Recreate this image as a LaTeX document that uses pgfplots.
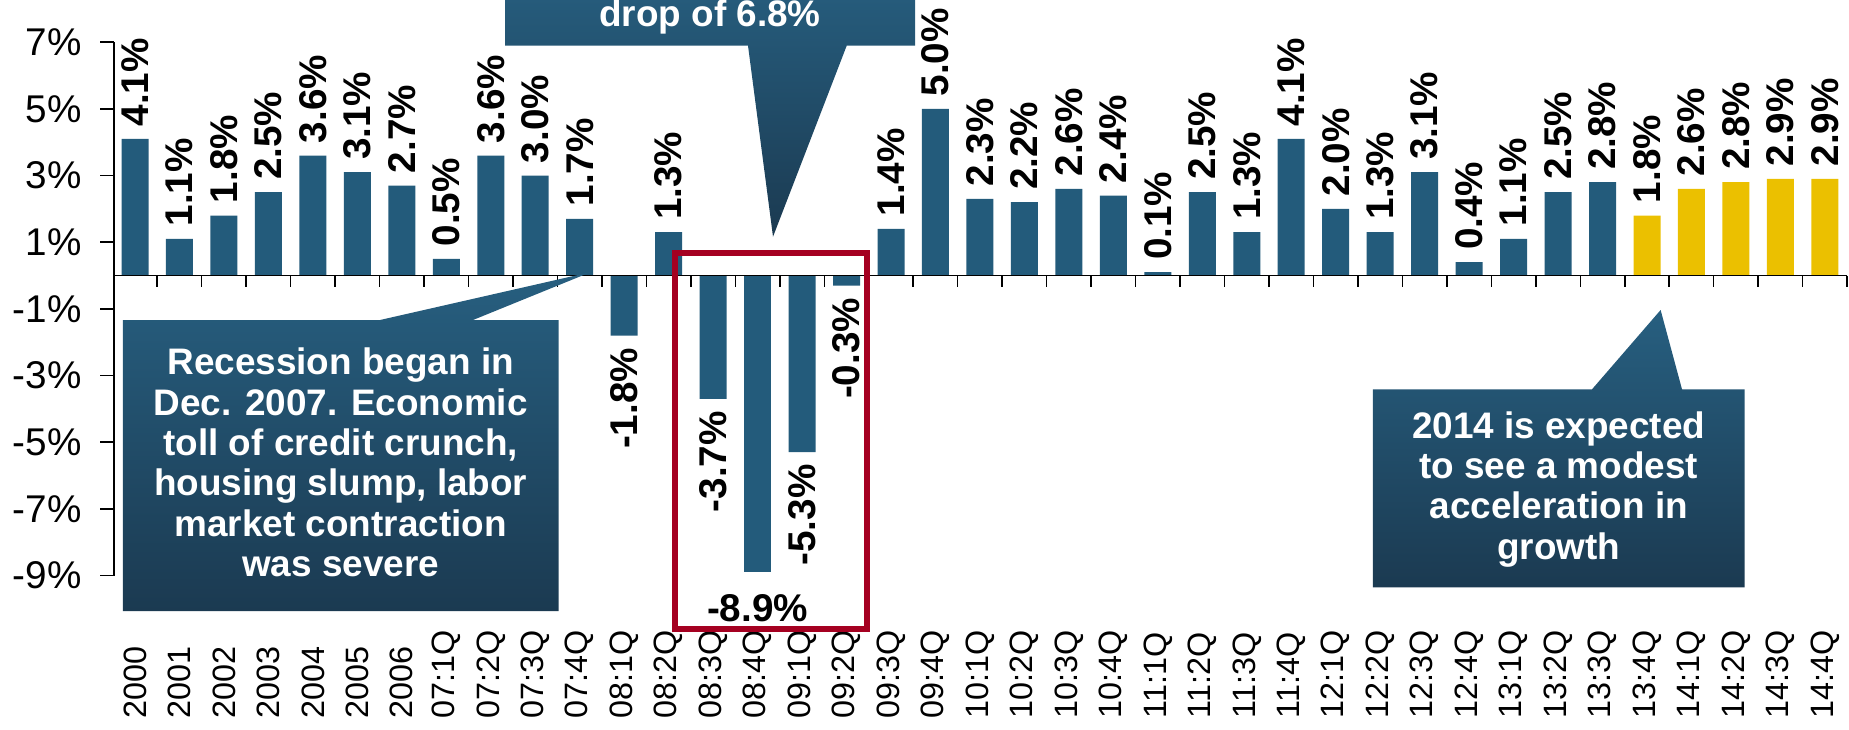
\documentclass[border=0pt]{standalone}
\usepackage{pgfplots}
\pgfplotsset{compat=1.18}
\usepackage{pgfplotstable}
\usepackage{fontspec}
\setmainfont{Liberation Sans}
\definecolor{barblue}{HTML}{235B7B}
\definecolor{baryellow}{HTML}{EBC000}
\definecolor{boxtop}{HTML}{275F80}
\definecolor{boxbot}{HTML}{1B3A51}
\definecolor{redbox}{HTML}{A50021}

\pgfplotstableread{
x y
0 4.1
1 1.1
2 1.8
3 2.5
4 3.6
5 3.1
6 2.7
7 0.5
8 3.6
9 3.0
10 1.7
12 1.3
17 1.4
18 5.0
19 2.3
20 2.2
21 2.6
22 2.4
23 0.1
24 2.5
25 1.3
26 4.1
27 2.0
28 1.3
29 3.1
30 0.4
31 1.1
32 2.5
33 2.8
}\bluepos
\pgfplotstableread{
x y
11 -1.8
13 -3.7
15 -5.3
16 -0.3
}\blueneg
\pgfplotstableread{
x y
14 -8.9
}\bluemin
\pgfplotstableread{
x y
34 1.8
35 2.6
36 2.8
37 2.9
38 2.9
}\yellowfc

\begin{document}
\begin{tikzpicture}
\begin{axis}[
  at={(11.41mm,15.35mm)}, anchor=south west,
  width=173.3mm, height=53.33mm, scale only axis,
  xmin=-0.47, xmax=38.5, ymin=-9, ymax=7,
  ybar, bar width=2.7mm, bar shift=0pt,
  axis x line*=bottom, axis y line*=left,
  x axis line style={draw=none},
  y axis line style={-, line width=0.45pt},
  xtick={0,...,38},
  xticklabels={2000,2001,2002,2003,2004,2005,2006,07:1Q,07:2Q,07:3Q,07:4Q,08:1Q,08:2Q,08:3Q,08:4Q,09:1Q,09:2Q,09:3Q,09:4Q,10:1Q,10:2Q,10:3Q,10:4Q,11:1Q,11:2Q,11:3Q,11:4Q,12:1Q,12:2Q,12:3Q,12:4Q,13:1Q,13:2Q,13:3Q,13:4Q,14:1Q,14:2Q,14:3Q,14:4Q},
  xticklabel style={rotate=90, anchor=west, inner sep=0pt, font=\fontsize{9.2}{11}\selectfont},
  xticklabel shift=12.95mm,
  major x tick style={draw=none},
  ytick={-9,-7,-5,-3,-1,1,3,5,7},
  yticklabels={-9\%,-7\%,-5\%,-3\%,-1\%,1\%,3\%,5\%,7\%},
  yticklabel style={font=\fontsize{11}{13}\selectfont, xshift=-0.6mm},
  tick align=outside, major tick length=1.4mm,
  major y tick style={black, line width=0.45pt},
  /pgf/number format/assume math mode=true,
  clip=false,
  point meta=explicit symbolic,
  nodes near coords={\pgfplotspointmeta\%},
  every node near coord/.append style={font=\bfseries\fontsize{11}{13}\selectfont, text=black},
]
\addplot[fill=barblue, draw=none, every node near coord/.append style={rotate=90, anchor=west}] table[x=x,y=y,meta=y]{\bluepos};
\addplot[fill=barblue, draw=none, every node near coord/.append style={rotate=90, anchor=east}] table[x=x,y=y,meta=y]{\blueneg};
\addplot[fill=barblue, draw=none, every node near coord/.append style={anchor=north, yshift=-1mm}] table[x=x,y=y,meta=y]{\bluemin};
\addplot[fill=baryellow, draw=none, every node near coord/.append style={rotate=90, anchor=west}] table[x=x,y=y,meta=y]{\yellowfc};
\draw[black, line width=0.45pt] (axis cs:-0.47,0) -- (axis cs:38.5,0);
\pgfplotsinvokeforeach{0.5,1.5,...,38.5}{\draw[black, line width=0.45pt] (axis cs:#1,0) -- (axis cs:#1,-0.35);}
\end{axis}
\begin{scope}[x=0.1mm, y=-0.1mm, yshift=72.9mm]
  % left callout
  \shade[top color=boxtop, bottom color=boxbot] (122.8,320) -- (380,320) -- (591,272) -- (473,320) -- (558.7,320) -- (558.7,611) -- (122.8,611) -- cycle;
  \node[text=white, align=center, font=\bfseries\fontsize{10.5}{11.5}\selectfont, inner sep=0pt] at (340.7,462.5)
   {Recession began in\\Dec. 2007. Economic\\toll of credit crunch,\\housing slump, labor\\market contraction\\was severe};
  % right callout
  \shade[top color=boxtop, bottom color=boxbot] (1372.8,389.3) -- (1592,389.3) -- (1660.6,310) -- (1682,389.3) -- (1744.7,389.3) -- (1744.7,587.3) -- (1372.8,587.3) -- cycle;
  \node[text=white, align=center, font=\bfseries\fontsize{10.5}{11.5}\selectfont, inner sep=0pt] at (1558.7,489.3)
   {2014 is expected\\to see a modest\\acceleration in\\growth};
  % top callout
  \shade[top color=boxtop, bottom color=boxbot] (505,-30) -- (915,-30) -- (915,45.7) -- (846.7,45.7) -- (773,236.7) -- (748,45.7) -- (505,45.7) -- cycle;
  \node[text=white, anchor=base, font=\bfseries\fontsize{10.5}{11.5}\selectfont, inner sep=0pt] at (710,26.7) {drop of 6.8\%};
  % red box
  \draw[redbox, line width=0.55mm] (675,253) rectangle (867,629);
\end{scope}
\pgfresetboundingbox
\useasboundingbox (0,0) rectangle (184.9mm,72.9mm);
\end{tikzpicture}
\end{document}
